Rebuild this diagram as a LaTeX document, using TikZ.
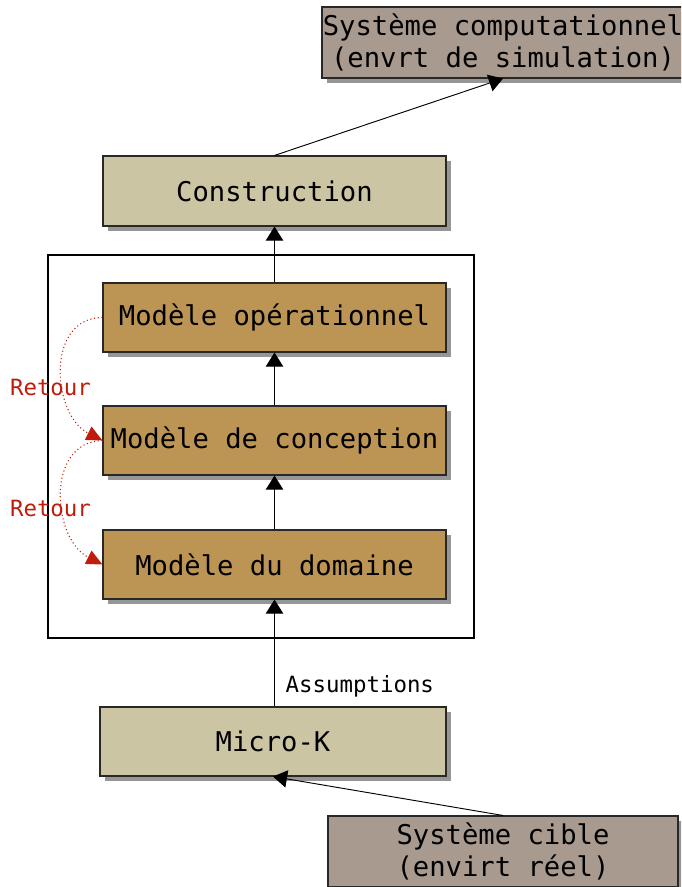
\documentclass[tikz,border=0pt]{standalone}
\usepackage{fontspec}
\setmonofont{DejaVu Sans Mono}
\usetikzlibrary{arrows.meta,shadows}
\definecolor{greybox}{RGB}{168,154,142}
\definecolor{khaki}{RGB}{203,197,163}
\definecolor{ochre}{RGB}{188,149,85}
\definecolor{retourred}{RGB}{192,28,12}
\definecolor{shadowgrey}{RGB}{150,150,150}
\begin{document}
\begin{tikzpicture}[x=0.75pt,y=-0.75pt,
  box/.style={draw={rgb,255:red,40;green,40;blue,40}, line width=0.8pt,
    font=\ttfamily\fontsize{20.4}{24.5}\selectfont, align=center, inner sep=0pt,
    drop shadow={shadow xshift=3.4pt,shadow yshift=-3.4pt,fill=shadowgrey,opacity=1}},
  stdbox/.style={box, minimum width=257.25pt, minimum height=52.5pt},
  arr/.style={-{Triangle[length=10.5pt,width=13pt]}, line width=0.7pt},
  retarr/.style={-{Triangle[length=12pt,width=11pt]}, retourred, dotted, line width=0.8pt},
  retlbl/.style={text=retourred, font=\ttfamily\fontsize{16.8}{20}\selectfont, inner sep=0pt},
  lbl/.style={font=\ttfamily\fontsize{16.8}{20}\selectfont, inner sep=0pt}
]
\useasboundingbox (0,0) rectangle (681,887);
\clip (0,0) rectangle (681,887);

\node[box, fill=greybox, minimum width=271.5pt, minimum height=53.25pt] (top) at (503,42.5) {Système computationnel\\(envrt de simulation)};
\node[stdbox, fill=khaki] (constr) at (274.5,191) {Construction};
\draw[line width=1pt] (48,255) rectangle (474,638);
\node[stdbox, fill=ochre, minimum height=51.75pt] (op) at (274.5,317.5) {Modèle opérationnel};
\node[stdbox, fill=ochre, minimum height=51.75pt] (conc) at (274.5,440.5) {Modèle de conception};
\node[stdbox, fill=ochre, minimum height=51.75pt] (dom) at (274.5,564.5) {Modèle du domaine};
\node[box, fill=khaki, minimum width=259.5pt, minimum height=51.75pt] (micro) at (273,741.5) {Micro-K};
\node[box, fill=greybox, minimum width=262.5pt, minimum height=53.25pt] (cible) at (503,851.5) {Système cible\\(envirt réel)};

\draw[arr] (constr.north) -- (top.south);
\draw[arr] (op.north) -- (constr.south);
\draw[arr] (conc.north) -- (op.south);
\draw[arr] (dom.north) -- (conc.south);
\draw[arr] (micro.north -| dom.south) -- node[lbl, right, xshift=8pt, pos=0.19] (assum) {Assumptions} (dom.south);
\draw[arr] (cible.north) -- (micro.south);

\draw[retarr] (op.west) .. controls (45,318) and (52,415) .. (conc.west);
\draw[retarr] (conc.west) .. controls (45,442) and (52,539) .. (dom.west);
\node[retlbl] (r1) at (50.5,387) {Retour};
\node[retlbl] (r2) at (50.5,508) {Retour};
\end{tikzpicture}
\end{document}
